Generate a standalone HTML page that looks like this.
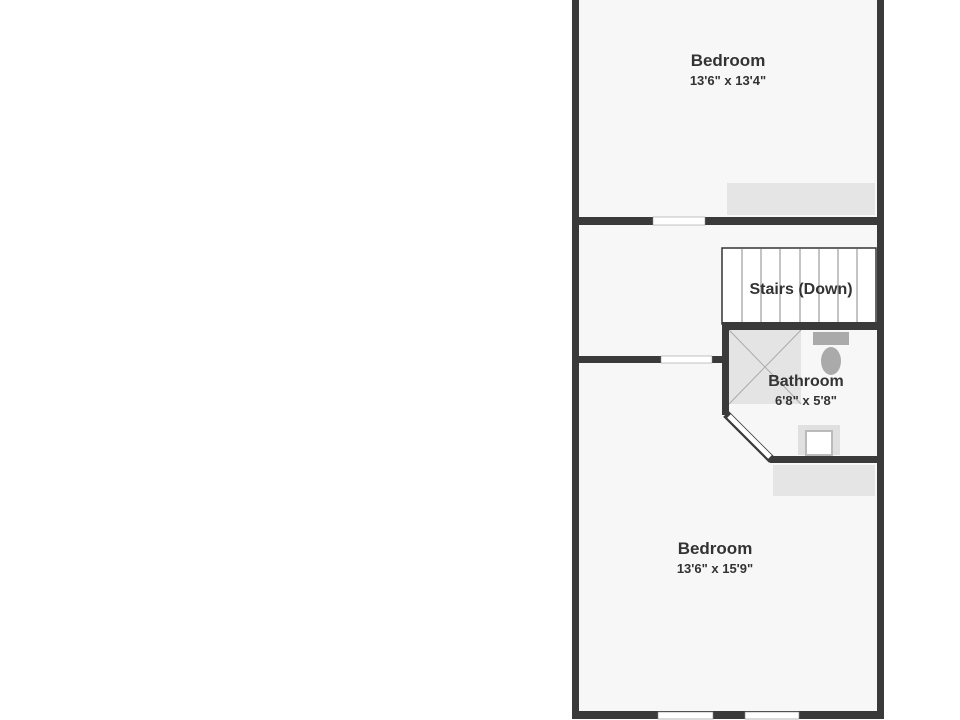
<!DOCTYPE html>
<html><head><style>html,body{margin:0;padding:0;background:#fff;width:960px;height:720px;overflow:hidden}</style></head>
<body>
<svg width="960" height="720" viewBox="0 0 960 720" xmlns="http://www.w3.org/2000/svg" font-family="'Liberation Sans',sans-serif">
<rect x="576" y="0" width="305" height="715" fill="#f7f7f7"/>
<rect x="727" y="183" width="148" height="32" fill="#e5e5e5"/>
<rect x="773" y="465" width="102" height="31" fill="#e5e5e5"/>
<!-- stairs -->
<rect x="722" y="248" width="154" height="76" fill="#fff" stroke="#333" stroke-width="1.5"/>
<g stroke="#888" stroke-width="1">
<line x1="742" y1="249" x2="742" y2="322"/><line x1="761" y1="249" x2="761" y2="322"/><line x1="780" y1="249" x2="780" y2="322"/><line x1="800" y1="249" x2="800" y2="322"/><line x1="819" y1="249" x2="819" y2="322"/><line x1="838" y1="249" x2="838" y2="322"/><line x1="857" y1="249" x2="857" y2="322"/>
</g>
<!-- shower -->
<rect x="729" y="330" width="72" height="74" fill="#e4e4e4"/>
<line x1="729" y1="330" x2="801" y2="404" stroke="#aaa"/><line x1="801" y1="330" x2="729" y2="404" stroke="#aaa"/>
<!-- toilet -->
<rect x="813" y="332" width="36" height="13" fill="#aaa"/>
<ellipse cx="831" cy="361" rx="10" ry="14" fill="#aaa"/>
<!-- sink -->
<rect x="798" y="425" width="42" height="30" fill="#e0e0e0"/>
<rect x="806" y="431" width="26" height="24" fill="#fff" stroke="#bbb" stroke-width="2"/>
<!-- walls -->
<g fill="#3a3a3a">
<rect x="572" y="0" width="7" height="719"/>
<rect x="877" y="0" width="7" height="719"/>
<rect x="572" y="711" width="312" height="8"/>
<rect x="576" y="217" width="305" height="8"/>
<rect x="576" y="356" width="149" height="7"/>
<rect x="722" y="322" width="159" height="8"/>
<rect x="722" y="322" width="7" height="93"/>
<rect x="770" y="456" width="111" height="7"/>
</g>
<!-- windows -->
<rect x="653" y="217" width="52" height="8" fill="#fff" stroke="#888" stroke-width="0.5"/>
<rect x="661" y="356" width="51" height="7" fill="#fff" stroke="#888" stroke-width="0.5"/>
<line x1="726" y1="414" x2="772" y2="460" stroke="#3a3a3a" stroke-width="8"/>
<line x1="729" y1="416" x2="770" y2="457" stroke="#fff" stroke-width="5"/>
<rect x="658" y="712" width="55" height="7" fill="#fff" stroke="#888" stroke-width="0.6"/>
<rect x="745" y="712" width="54" height="7" fill="#fff" stroke="#888" stroke-width="0.6"/>
<!-- labels -->
<g fill="#333" text-anchor="middle" font-weight="bold">
<text x="728" y="66" font-size="17">Bedroom</text>
<text x="728" y="85" font-size="13">13'6" x 13'4"</text>
<text x="801" y="294" font-size="16">Stairs (Down)</text>
<text x="806" y="386" font-size="16">Bathroom</text>
<text x="806" y="405" font-size="13">6'8" x 5'8"</text>
<text x="715" y="554" font-size="17">Bedroom</text>
<text x="715" y="573" font-size="13">13'6" x 15'9"</text>
</g>
</svg>
</body></html>
